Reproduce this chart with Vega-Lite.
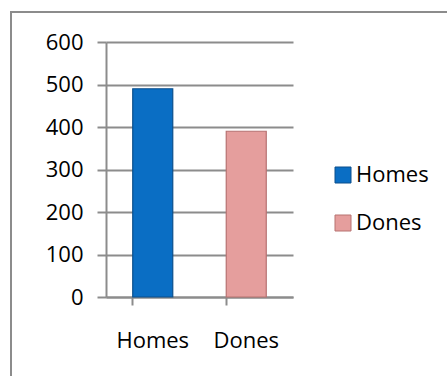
{
  "$schema": "https://vega.github.io/schema/vega-lite/v6.json",
  "autosize": "none",
  "padding": {"left": 11, "top": 12, "right": 0, "bottom": 0},
  "width": 440,
  "height": 370,
  "background": "white",
  "config": {
    "view": {"stroke": "#8c8c8c", "strokeWidth": 2},
    "font": "Open Sans"
  },
  "data": {
    "values": [
      {"category": "Homes", "value": 490},
      {"category": "Dones", "value": 390}
    ]
  },
  "mark": {"type": "bar", "strokeWidth": 1.2},
  "encoding": {
    "x": {
      "field": "category",
      "type": "nominal",
      "sort": ["Homes", "Dones"],
      "scale": {"range": [95, 282], "paddingInner": 0.572, "paddingOuter": 0.286},
      "axis": {
        "title": null,
        "offset": -85,
        "labelAngle": 0,
        "labelFont": "Open Sans",
        "labelFontSize": 22,
        "labelColor": "#000000",
        "labelPadding": 25,
        "bandPosition": 0,
        "tickSize": 8,
        "tickWidth": 2,
        "tickColor": "#8c8c8c",
        "domainColor": "#8c8c8c",
        "domainWidth": 2,
        "grid": false
      }
    },
    "y": {
      "field": "value",
      "type": "quantitative",
      "scale": {"domain": [0, 600], "range": [285, 30], "nice": false},
      "axis": {
        "title": null,
        "offset": -95,
        "values": [0, 100, 200, 300, 400, 500, 600],
        "labelFont": "Open Sans",
        "labelFontSize": 22,
        "labelColor": "#000000",
        "labelPadding": 14,
        "tickSize": 9,
        "tickWidth": 2,
        "tickColor": "#8c8c8c",
        "domainColor": "#8c8c8c",
        "domainWidth": 2,
        "grid": true,
        "gridColor": "#8c8c8c",
        "gridWidth": 2
      }
    },
    "color": {
      "field": "category",
      "type": "nominal",
      "sort": ["Homes", "Dones"],
      "scale": {"domain": ["Homes", "Dones"], "range": ["#0a6ec4", "#e59e9d"]},
      "legend": {
        "title": null,
        "orient": "none",
        "legendX": 321,
        "legendY": 152,
        "padding": 0,
        "symbolType": "square",
        "symbolSize": 256,
        "symbolStrokeWidth": 1,
        "labelFont": "Open Sans",
        "labelFontSize": 22,
        "labelColor": "#000000",
        "labelOffset": 2,
        "rowPadding": 26
      }
    },
    "stroke": {
      "field": "category",
      "type": "nominal",
      "sort": ["Homes", "Dones"],
      "scale": {"domain": ["Homes", "Dones"], "range": ["#0b4f8c", "#b77271"]},
      "legend": {
        "title": null,
        "orient": "none",
        "legendX": 321,
        "legendY": 152,
        "padding": 0,
        "symbolType": "square",
        "symbolSize": 256,
        "symbolStrokeWidth": 1,
        "labelFont": "Open Sans",
        "labelFontSize": 22,
        "labelColor": "#000000",
        "labelOffset": 2,
        "rowPadding": 26
      }
    }
  }
}
